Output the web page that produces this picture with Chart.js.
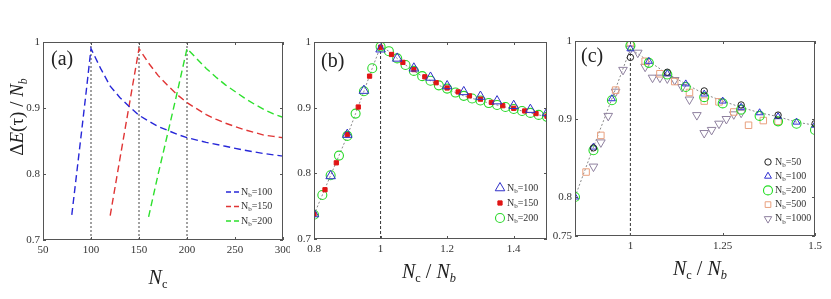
<!DOCTYPE html>
<html>
<head>
<meta charset="utf-8">
<script src="https://cdn.jsdelivr.net/npm/chart.js@4/dist/chart.umd.min.js"></script>
<style>
  body { margin: 0; width: 831px; height: 299px; position: relative; background: #fff; overflow: hidden;
         font-family: "Liberation Serif", "Times New Roman", serif; color: #222; }
  canvas { position: absolute; top: 0; }
  .t { position: absolute; white-space: nowrap; transform: translate(-50%, -50%); line-height: 1; }
  .t sub { font-size: 0.62em; vertical-align: -0.35em; line-height: 0; }
  .ytitle { transform: translate(-50%, -50%) rotate(-90deg); font-size: 19px; }
  .xtitle { font-size: 20px; }
  .panel { position: absolute; font-size: 20px; line-height: 1; }
</style>
</head>
<body>
<canvas id="chartA" width="290" height="299" style="left:0px"></canvas>
<canvas id="chartB" width="270" height="299" style="left:285px"></canvas>
<canvas id="chartC" width="283" height="299" style="left:548px"></canvas>

<div class="t ytitle" style="left:16px; top:117px">Δ<i>E</i>(τ) / <i>N</i><sub><i>b</i></sub></div>
<div class="t xtitle" style="left:158px; top:277px"><i>N</i><sub>c</sub></div>
<div class="t xtitle" style="left:429px; top:271px"><i>N</i><sub>c</sub> / <i>N</i><sub><i>b</i></sub></div>
<div class="t xtitle" style="left:700px; top:268px"><i>N</i><sub>c</sub> / <i>N</i><sub><i>b</i></sub></div>
<div class="panel" style="left:51px; top:48px">(a)</div>
<div class="panel" style="left:321px; top:50px">(b)</div>
<div class="panel" style="left:581px; top:45px">(c)</div>

<script>
const FONT = '"Liberation Serif", "Times New Roman", serif';

// ---- panel (a): dE/Nb against Nc ----
const aNc100 = [80, 85, 90, 95, 100, 110, 120, 130, 140, 150, 160, 170, 180, 190, 200, 220, 240, 260, 280, 300];
const aE100  = [0.738, 0.800, 0.862, 0.925, 0.990, 0.960, 0.933, 0.916, 0.902, 0.889, 0.880, 0.872, 0.866, 0.860, 0.855, 0.848, 0.842, 0.836, 0.831, 0.827];
const aNc150 = [120, 130, 140, 150, 160, 170, 180, 190, 200, 210, 220, 230, 240, 250, 260, 270, 280, 290, 300];
const aE150  = [0.737, 0.822, 0.906, 0.990, 0.968, 0.949, 0.934, 0.920, 0.908, 0.899, 0.890, 0.883, 0.877, 0.872, 0.867, 0.863, 0.859, 0.857, 0.855];
const aNc200 = [160, 170, 180, 190, 200, 210, 220, 230, 240, 250, 260, 270, 280, 290, 300];
const aE200  = [0.735, 0.800, 0.862, 0.925, 0.990, 0.975, 0.960, 0.947, 0.935, 0.925, 0.915, 0.906, 0.898, 0.891, 0.886];
const aRefNc = [100, 150, 200];
const aXTicks = [50, 100, 150, 200, 250, 300];
const aYTicks = [0.7, 0.8, 0.9, 1];

// ---- panel (b): dE/Nb against Nc/Nb ----
const b100X = [0.8, 0.85, 0.9, 0.95, 1.0, 1.05, 1.1, 1.15, 1.2, 1.25, 1.3, 1.35, 1.4, 1.45, 1.5];
const b100Y = [0.738, 0.796, 0.859, 0.926, 0.989, 0.975, 0.960, 0.946, 0.933, 0.924, 0.917, 0.910, 0.903, 0.897, 0.892];
const b150X = [0.8, 0.833, 0.867, 0.9, 0.933, 0.967, 1.0, 1.033, 1.067, 1.1, 1.133, 1.167, 1.2, 1.233, 1.267, 1.3, 1.333, 1.367, 1.4, 1.433, 1.467, 1.5];
const b150Y = [0.738, 0.775, 0.816, 0.859, 0.901, 0.948, 0.992, 0.981, 0.969, 0.958, 0.947, 0.938, 0.930, 0.924, 0.918, 0.913, 0.908, 0.903, 0.899, 0.895, 0.891, 0.887];
const b200X = [0.8, 0.825, 0.85, 0.875, 0.9, 0.925, 0.95, 0.975, 1.0, 1.025, 1.05, 1.075, 1.1, 1.125, 1.15, 1.175, 1.2, 1.225, 1.25, 1.275, 1.3, 1.325, 1.35, 1.375, 1.4, 1.425, 1.45, 1.475, 1.5];
const b200Y = [0.737, 0.767, 0.797, 0.827, 0.857, 0.891, 0.925, 0.960, 0.993, 0.986, 0.975, 0.965, 0.956, 0.948, 0.941, 0.934, 0.929, 0.923, 0.918, 0.914, 0.911, 0.907, 0.904, 0.901, 0.898, 0.895, 0.892, 0.889, 0.886];
const bXTicks = [0.8, 1, 1.2, 1.4];
const bYTicks = [0.7, 0.8, 0.9, 1];

// ---- panel (c): larger Nb ----
const c50X   = [0.9, 1.0, 1.1, 1.2, 1.3, 1.4, 1.5];
const c50Y   = [0.863, 0.979, 0.960, 0.936, 0.918, 0.905, 0.894];
const c100X  = [0.85, 0.9, 0.95, 1.0, 1.05, 1.1, 1.15, 1.2, 1.25, 1.3, 1.35, 1.4, 1.45, 1.5];
const c100Y  = [0.800, 0.864, 0.926, 0.990, 0.974, 0.958, 0.945, 0.932, 0.923, 0.915, 0.908, 0.903, 0.896, 0.892];
const c200X  = [0.85, 0.9, 0.95, 1.0, 1.05, 1.1, 1.15, 1.2, 1.25, 1.3, 1.35, 1.4, 1.45, 1.5];
const c200Y  = [0.800, 0.860, 0.924, 0.994, 0.972, 0.957, 0.941, 0.928, 0.920, 0.912, 0.904, 0.897, 0.894, 0.886];
const c500X  = [0.88, 0.92, 0.96, 1.0, 1.04, 1.08, 1.12, 1.16, 1.2, 1.24, 1.28, 1.32, 1.36, 1.4];
const c500Y  = [0.832, 0.879, 0.937, 0.998, 0.974, 0.958, 0.948, 0.934, 0.923, 0.922, 0.909, 0.892, 0.898, 0.897];
const c1000X = [0.9, 0.92, 0.94, 0.96, 0.98, 1.0, 1.02, 1.04, 1.06, 1.08, 1.1, 1.12, 1.14, 1.16, 1.18, 1.2, 1.22, 1.24, 1.26, 1.28, 1.3];
const c1000Y = [0.839, 0.870, 0.904, 0.935, 0.963, 0.990, 0.985, 0.967, 0.953, 0.953, 0.952, 0.950, 0.941, 0.925, 0.905, 0.882, 0.886, 0.894, 0.900, 0.906, 0.908];
const cXTicks = [1, 1.25, 1.5];
const cYTicks = [0.75, 0.8, 0.9, 1];

function pts(xs, ys) { return xs.map((x, i) => ({ x: x, y: ys[i] })); }

// MATLAB-like box with inward ticks
const boxPlugin = {
  id: 'box',
  afterDatasetsDraw(chart) {
    const { ctx, chartArea: a, scales } = chart;
    ctx.save();
    ctx.strokeStyle = '#555';
    ctx.lineWidth = 1;
    ctx.strokeRect(a.left + 0.5, a.top + 0.5, a.right - a.left - 1, a.bottom - a.top - 1);
    ctx.beginPath();
    scales.x.ticks.forEach(t => {
      const p = Math.round(scales.x.getPixelForValue(t.value)) + 0.5;
      ctx.moveTo(p, a.bottom); ctx.lineTo(p, a.bottom - 3);
      ctx.moveTo(p, a.top); ctx.lineTo(p, a.top + 3);
    });
    scales.y.ticks.forEach(t => {
      const p = Math.round(scales.y.getPixelForValue(t.value)) + 0.5;
      ctx.moveTo(a.left, p); ctx.lineTo(a.left + 3, p);
      ctx.moveTo(a.right, p); ctx.lineTo(a.right - 3, p);
    });
    ctx.stroke();
    ctx.restore();
  }
};

// legend with a subscripted "N_b=" label
const nbLegend = {
  id: 'nbLegend',
  afterDraw(chart, args, o) {
    const ctx = chart.ctx;
    let y = o.y;
    chart.data.datasets.filter(d => d.nb).forEach(d => {
      ctx.save();
      if (o.kind === 'line') {
        ctx.strokeStyle = d.borderColor;
        ctx.lineWidth = d.borderWidth;
        ctx.setLineDash([5, 3]);
        ctx.beginPath(); ctx.moveTo(o.x - 7, y); ctx.lineTo(o.x + 6, y); ctx.stroke();
      } else {
        ctx.strokeStyle = d.pointBorderColor;
        ctx.fillStyle = d.pointBackgroundColor;
        ctx.lineWidth = d.pointBorderWidth;
        Chart.helpers.drawPoint(ctx, {
          pointStyle: d.pointStyle, radius: d.legendRadius || d.pointRadius,
          rotation: d.pointRotation || 0, borderWidth: d.pointBorderWidth
        }, o.x, y);
      }
      ctx.restore();
      ctx.save();
      ctx.fillStyle = '#333';
      ctx.textBaseline = 'middle';
      ctx.textAlign = 'left';
      let tx = o.x + o.gap;
      ctx.font = '10px ' + FONT;
      ctx.fillText('N', tx, y); tx += ctx.measureText('N').width;
      ctx.font = '7px ' + FONT;
      ctx.fillText('b', tx, y + 3); tx += ctx.measureText('b').width;
      ctx.font = '10px ' + FONT;
      ctx.fillText('=' + d.nb, tx, y);
      ctx.restore();
      y += o.dy;
    });
  }
};

function makeScales(xr, yr, xTicks, yTicks, yWidth) {
  const fmt = v => String(Math.round(v * 1000) / 1000);
  const tickFont = { family: FONT, size: 11 };
  return {
    x: {
      type: 'linear', min: xr[0], max: xr[1],
      grid: { display: false, drawTicks: false }, border: { display: false },
      afterBuildTicks: s => { s.ticks = xTicks.map(v => ({ value: v })); },
      afterFit: s => { s.height = 20; s.paddingLeft = 0; s.paddingRight = 0; },
      ticks: { font: tickFont, color: '#333', padding: 4, maxRotation: 0, autoSkip: false, callback: fmt }
    },
    y: {
      type: 'linear', min: yr[0], max: yr[1],
      grid: { display: false, drawTicks: false }, border: { display: false },
      afterBuildTicks: s => { s.ticks = yTicks.map(v => ({ value: v })); },
      afterFit: s => { s.width = yWidth; s.paddingTop = 0; s.paddingBottom = 0; },
      ticks: { font: tickFont, color: '#333', padding: 3, autoSkip: false, callback: fmt }
    }
  };
}

function baseOptions(scales, padding, legend) {
  return {
    responsive: false, animation: false, events: [],
    layout: { padding: padding },
    plugins: { legend: { display: false }, tooltip: { enabled: false }, nbLegend: legend },
    scales: scales
  };
}

function dashedCurve(nb, xs, ys, color) {
  return { nb: nb, data: pts(xs, ys), showLine: true, borderColor: color, borderWidth: 1.4,
           borderDash: [7, 4], pointRadius: 0, fill: false };
}

function vline(x, y0, y1, color, dash, order) {
  return { data: [{ x: x, y: y0 }, { x: x, y: y1 }], showLine: true, borderColor: color,
           borderWidth: 1, borderDash: dash, pointRadius: 0, order: order };
}

function marks(nb, xs, ys, style, color, fill, r, extra) {
  return Object.assign({ nb: nb, data: pts(xs, ys), showLine: false, pointStyle: style,
    pointRadius: r, pointBorderColor: color, pointBackgroundColor: fill, pointBorderWidth: 1 }, extra || {});
}

// (a)
new Chart(document.getElementById('chartA'), {
  type: 'scatter',
  data: {
    datasets: [
      dashedCurve(100, aNc100, aE100, '#2727d8'),
      dashedCurve(150, aNc150, aE150, '#e03535'),
      dashedCurve(200, aNc200, aE200, '#2de02d')
    ].concat(aRefNc.map(v => vline(v, aYTicks[0], aYTicks[aYTicks.length - 1], '#444', [2, 2], 10)))
  },
  options: baseOptions(makeScales([50, 300], [0.7, 1], aXTicks, aYTicks, 43),
                       { top: 42, right: 7, bottom: 39, left: 0 },
                       { kind: 'line', x: 233, y: 192, dy: 14.5, gap: 8 }),
  plugins: [boxPlugin, nbLegend]
});

// (b)
new Chart(document.getElementById('chartB'), {
  type: 'scatter',
  data: {
    datasets: [
      marks(150, b150X, b150Y, 'rect', '#e01515', '#e01515', 3),
      marks(100, b100X, b100Y, 'triangle', '#3030c8', 'rgba(0,0,0,0)', 5.5),
      marks(200, b200X, b200Y, 'circle', '#2ad82a', 'rgba(0,0,0,0)', 4.5, { pointBorderWidth: 1.1 }),
      { data: pts(b200X, b200Y), showLine: true, borderColor: '#888', borderWidth: 1,
        borderDash: [2, 2], pointRadius: 0, order: 10 },
      vline(1, 0.7, b200Y[8], '#333', [3, 2], 11)
    ]
  },
  options: baseOptions(makeScales([0.8, 1.5], [0.7, 1], bXTicks, bYTicks, 29),
                       { top: 42, right: 8, bottom: 40, left: 0 },
                       { kind: 'point', x: 215, y: 188, dy: 15, gap: 7 }),
  plugins: [boxPlugin, nbLegend]
});

// legend order for (b) follows 100, 150, 200
Chart.getChart('chartB').data.datasets.sort((p, q) => (p.nb || 1e9) - (q.nb || 1e9));
Chart.getChart('chartB').update();

// (c)
new Chart(document.getElementById('chartC'), {
  type: 'scatter',
  data: {
    datasets: [
      marks(50, c50X, c50Y, 'circle', '#222', 'rgba(0,0,0,0)', 3.2),
      marks(100, c100X, c100Y, 'triangle', '#3030d0', 'rgba(0,0,0,0)', 4),
      marks(200, c200X, c200Y, 'circle', '#22dd22', 'rgba(0,0,0,0)', 4.5, { pointBorderWidth: 1.1 }),
      marks(500, c500X, c500Y, 'rect', '#e9a07e', 'rgba(0,0,0,0)', 4.6, { legendRadius: 4 }),
      marks(1000, c1000X, c1000Y, 'triangle', '#8f819f', 'rgba(0,0,0,0)', 5, { pointRotation: 180, legendRadius: 4.3 }),
      { data: pts(c100X, c100Y), showLine: true, borderColor: '#888', borderWidth: 1,
        borderDash: [2, 2], pointRadius: 0, order: 10 },
      vline(1, 0.75, c100Y[3], '#333', [3, 2], 11)
    ]
  },
  options: baseOptions(makeScales([0.85, 1.5], [0.75, 1], cXTicks, cYTicks, 27),
                       { top: 41, right: 16, bottom: 43, left: 0 },
                       { kind: 'point', x: 220, y: 162, dy: 14.2, gap: 7 }),
  plugins: [boxPlugin, nbLegend]
});
</script>
</body>
</html>
